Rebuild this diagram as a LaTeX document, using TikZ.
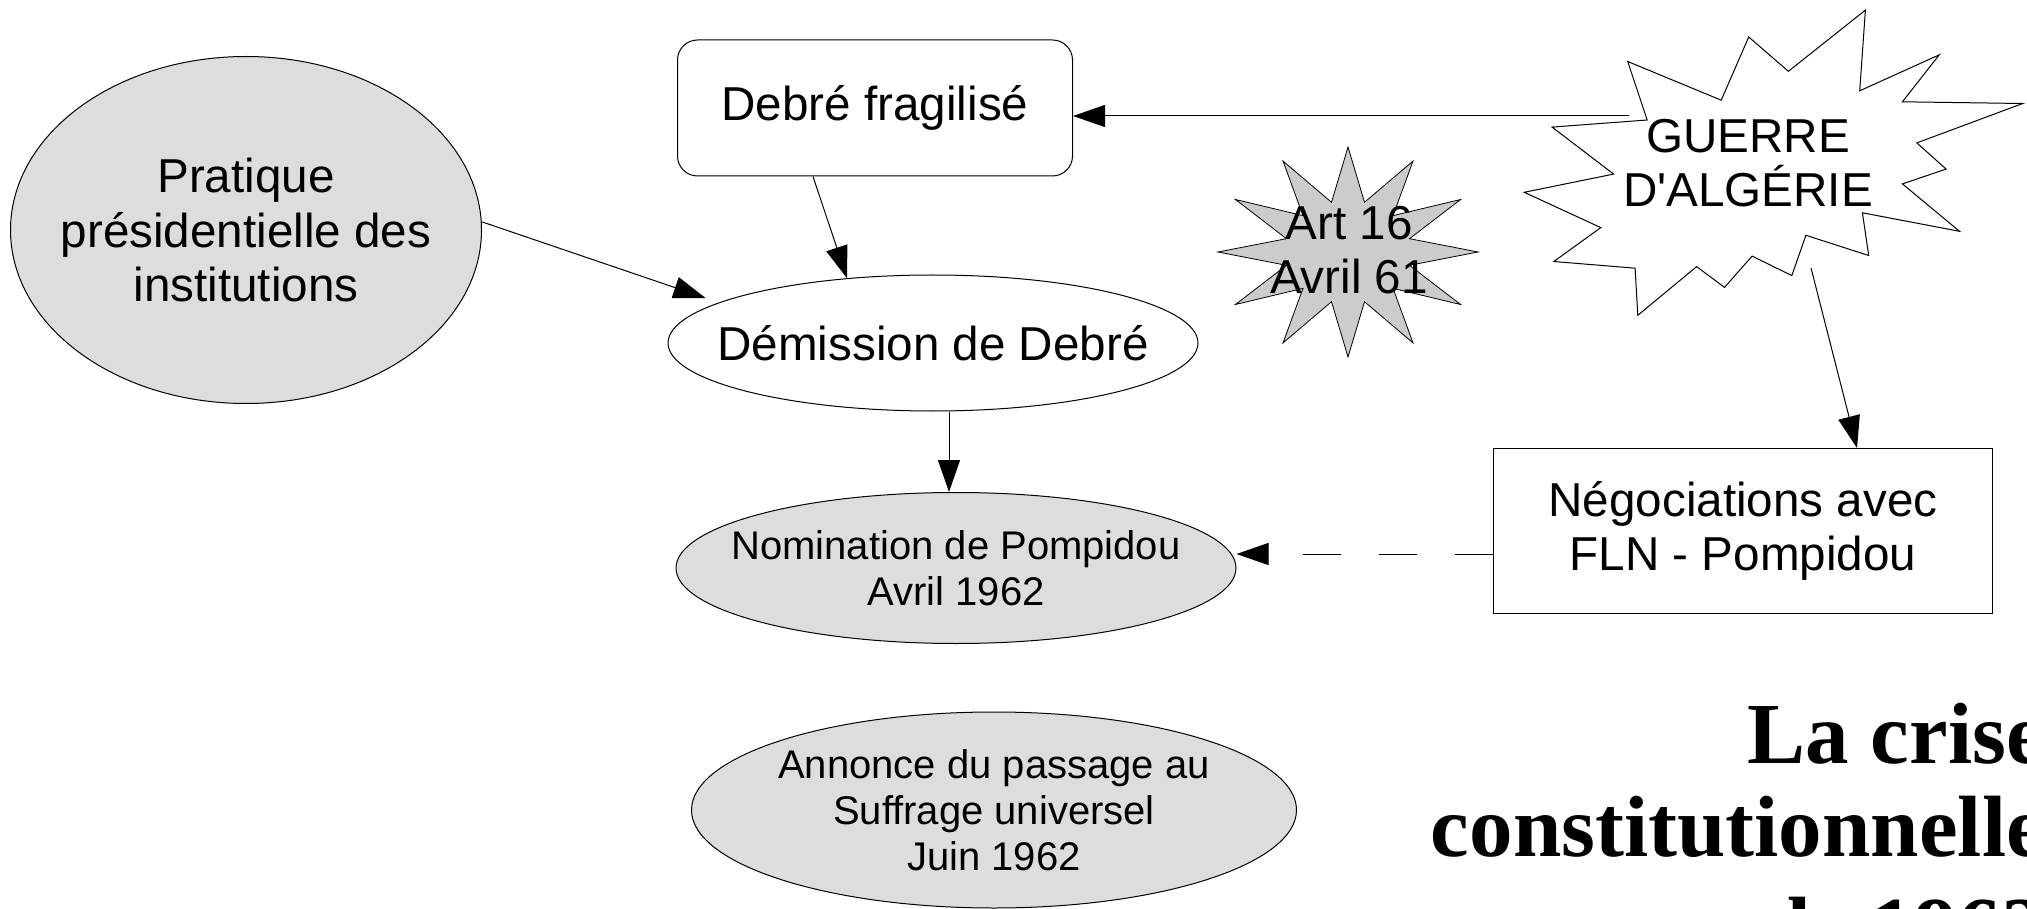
\documentclass[tikz,border=0pt]{standalone}
\usepackage{fontspec}
\setmainfont{Liberation Sans}
\newfontfamily\plainsans{Liberation Sans}
\newfontfamily\serifbf{Liberation Serif}
\usetikzlibrary{shapes.geometric,arrows.meta,calc}
\definecolor{ellgray}{HTML}{DDDDDD}
\definecolor{stargray}{HTML}{CCCCCC}
\tikzset{
  lbl/.style={font=\fontsize{47.6}{54.7}\selectfont, align=center, inner sep=0pt},
  sml/.style={font=\fontsize{40}{46}\selectfont, align=center, inner sep=0pt},
  ttl/.style={font=\serifbf\bfseries\fontsize{87}{93}\selectfont, inner sep=0pt, anchor=base east},
  ell/.style={ellipse, draw, line width=1pt, fill=ellgray, inner sep=0pt},
  arr/.style={-{Triangle[length=32pt,width=22pt]}, line width=1pt},
  outl/.style={draw, line width=1pt, line join=miter},
}
\begin{document}
\begin{tikzpicture}[x=1pt,y=-1pt]
\useasboundingbox (0,0) rectangle (2027,909);
\fill[white] (0,0) rectangle (2027,909);
\clip (0,0) rectangle (2027,909);

% Pratique
\node[ell, minimum width=471pt, minimum height=347pt] (prat) at (246,230) {};
\node[lbl] (pratT) at (prat.center) {Pratique\\présidentielle des\\institutions};

% Debre fragilise
\node[outl, fill=white, rounded corners=20pt, minimum width=395pt, minimum height=136pt, inner sep=0pt, lbl] (debre) at (875,108) {Debré fragilisé};

% Demission
\node[ell, fill=white, minimum width=530pt, minimum height=136pt] (dem) at (933,343) {};
\node[lbl] (demT) at (dem.center) {Démission de Debré};

% Nomination
\node[ell, minimum width=560pt, minimum height=151pt] (nom) at (956,568) {};
\node[sml] (nomT) at (nom.center) {Nomination de Pompidou\\Avril 1962};

% Annonce
\node[ell, minimum width=605pt, minimum height=196pt] (ann) at (994,810) {};
\node[sml] (annT) at (ann.center) {Annonce du passage au\\Suffrage universel\\Juin 1962};

% Negociations
\node[outl, fill=white, minimum width=499pt, minimum height=165pt, inner sep=0pt, lbl] (neg) at (1743,531) {Négociations avec\\FLN - Pompidou};

% Art 16 star
\draw[line width=0.8pt, fill=stargray]
  plot[samples at={0,...,23}] ({1348+(1-0.51*mod(\x,2))*130*cos(90+15*\x)},{252-(1-0.51*mod(\x,2))*105*sin(90+15*\x)}) -- cycle;
\node[lbl] (art) at (1349,250) {Art 16\\Avril 61};

% Guerre star
\draw[line width=1pt, fill=white] (1627.7,61.5) -- (1721.2,100.2) -- (1748.7,37.0) -- (1788.4,71.3) -- (1865.4,10.1) -- (1859.7,90.8) -- (1939.3,54.8) -- (1902.4,101.8) -- (2022.7,103.5) -- (1916.8,142.9) -- (1946.1,169.1) -- (1902.4,183.9) -- (1959.5,231.3) -- (1862.4,212.8) -- (1868.7,255.5) -- (1805.9,235.3) -- (1791.8,275.6) -- (1752.1,256.1) -- (1724.5,287.4) -- (1696.6,266.6) -- (1637.8,315.3) -- (1635.1,268.2) -- (1553.8,261.5) -- (1600.8,227.6) -- (1524.2,192.3) -- (1613.6,174.1) -- (1552.1,127.1) -- (1647.2,120.0) -- cycle;
\node[lbl, font=\plainsans\fontsize{47.6}{54.7}\selectfont] (guerre) at (1748,163) {GUERRE\\D'ALGÉRIE};
\coordinate (gW) at (1629,116);
\coordinate (gS) at (1811,268);
\coordinate (vx) at (949,0);
\coordinate (dy) at (0,554);

% Connectors
\draw[arr] (gW) -- (gW -| debre.east);
\draw[arr] (gS) -- ($(neg.north)+(114,0)$);
\draw[arr] ($(debre.south)+(-62,0)$) -- (dem.143.7);
\draw[arr] (prat.2) -- ($(dem.west)+(38,-45)$);
\draw[arr] (dem.south -| vx) -- (nom.north -| vx);
\draw[arr, dash pattern=on 38pt off 38pt] (neg.west |- dy) -- (nom.east |- dy);

% Title
\node[ttl] (t1) at (2045,763) {La crise};
\node[ttl] (t2) at (2045,856) {constitutionnelle};
\node[ttl] (t3) at (2045,957) {de 1962};
\end{tikzpicture}
\end{document}
